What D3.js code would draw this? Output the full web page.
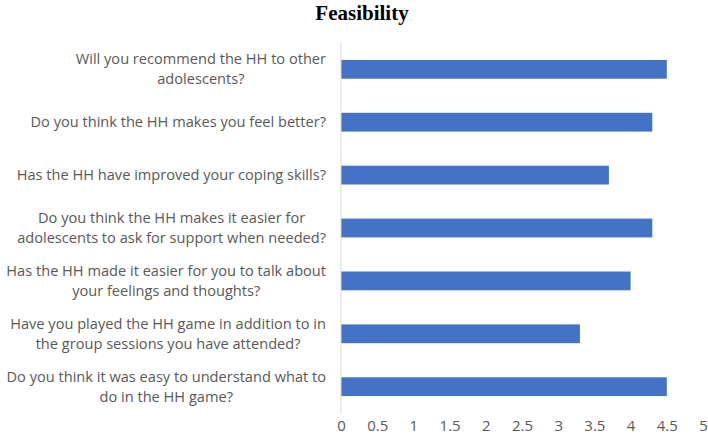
<!DOCTYPE html>
<html>
<head>
<meta charset="utf-8">
<title>Feasibility</title>
<script src="https://d3js.org/d3.v7.min.js"></script>
<style>
  body { margin: 0; background: #fff; }
  svg { display: block; }
</style>
</head>
<body>
<script>
// questions, top to bottom (already wrapped as in the original)
const questions = [
  ["Will you recommend the HH to other", "adolescents?"],
  ["Do you think the HH makes you feel better?"],
  ["Has the HH have improved your coping skills?"],
  ["Do you think the HH makes it easier for", "adolescents to ask for support when needed?"],
  ["Has the HH made it easier for you to talk about", "your feelings and thoughts?"],
  ["Have you played the HH game in addition to in", "the group sessions you have attended?"],
  ["Do you think it was easy to understand what to", "do in the HH game?"]
];
const scores = [4.5, 4.3, 3.7, 4.3, 4.0, 3.3, 4.5];
const ticks = [0, 0.5, 1, 1.5, 2, 2.5, 3, 3.5, 4, 4.5, 5];

const w = 708, h = 441;
const labelFont = "Open Sans, Liberation Sans, sans-serif";

const svg = d3.select("body").append("svg").attr("width", w).attr("height", h);

const x = d3.scaleLinear().domain([0, 5]).range([341, 703]);
const y = d3.scaleBand().domain(d3.range(questions.length)).range([43, 413]).paddingInner(0.645).paddingOuter(0.32);

svg.append("text")
  .attr("x", 362).attr("y", 20)
  .attr("text-anchor", "middle")
  .style("font-family", "Liberation Serif, Times New Roman, serif")
  .style("font-weight", "bold").style("font-size", "21px")
  .attr("fill", "#000")
  .text("Feasibility");

// bars
svg.selectAll("rect.bar").data(scores).enter().append("rect")
  .attr("class", "bar")
  .attr("x", x(0))
  .attr("y", (d, i) => y(i))
  .attr("width", d => x(d) - x(0))
  .attr("height", y.bandwidth())
  .attr("fill", "#4472C4");

// vertical axis line
svg.append("line")
  .attr("x1", x(0)).attr("x2", x(0))
  .attr("y1", 43).attr("y2", 413)
  .attr("stroke", "#d9d9d9").attr("stroke-width", 1);

// x tick labels
const xAxis = d3.axisBottom(x).tickValues(ticks).tickSize(0).tickPadding(0).tickFormat(d3.format("~g"));
const gx = svg.append("g").attr("transform", "translate(0,420)").call(xAxis);
gx.select(".domain").remove();
gx.selectAll("text")
  .style("font-family", labelFont).style("font-size", "15px")
  .attr("fill", "#595959").attr("dy", "0.71em");

// category labels: block right aligned, lines centred in the block
const rightEdge = 326, lineH = 20;
questions.forEach((lines, i) => {
  const g = svg.append("g");
  const cy = y(i) + y.bandwidth() / 2;
  const ts = lines.map((t, j) => g.append("text")
    .attr("text-anchor", "middle")
    .attr("y", cy + (j - (lines.length - 1) / 2) * lineH)
    .attr("dy", "0.35em")
    .style("font-family", labelFont).style("font-size", "14.6px")
    .attr("fill", "#595959")
    .text(t));
  const bw = d3.max(ts, t => t.node().getComputedTextLength());
  ts.forEach(t => t.attr("x", rightEdge - bw / 2));
});
</script>
</body>
</html>
